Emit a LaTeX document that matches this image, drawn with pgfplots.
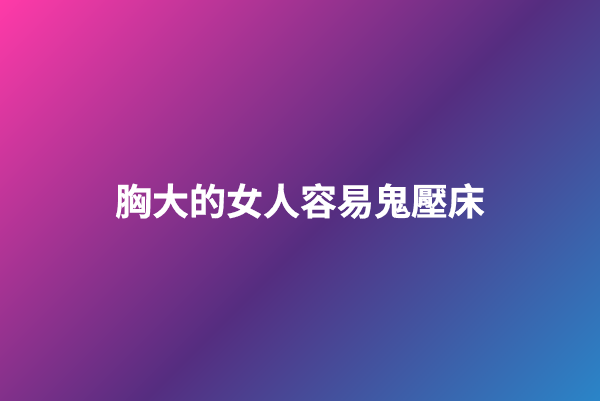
\documentclass[border=0pt]{standalone}
\usepackage{pgfplots}
\pgfplotsset{compat=1.18}
\usepackage{fontspec}
\newfontfamily\cjk{Noto Sans CJK TC}[UprightFont={* Bold}, FakeBold=0.6]

% diagonal gradient: pink (top left) -> deep purple -> blue (bottom right)
\pgfplotsset{
  colormap={banner}{rgb255(0)=(255,58,168) rgb255(545)=(85,45,128) rgb255(1000)=(42,133,200)}
}

\begin{document}
\begin{tikzpicture}
\begin{axis}[
    scale only axis,
    width=15cm, height=10cm,
    xmin=0, xmax=600,
    ymin=0, ymax=400,
    view={0}{90},
    hide axis,
    colormap name=banner,
    point meta min=0, point meta max=1000,
    clip=true,
]
% corner values: meta = x + (400 - y), in pixels
\addplot3[surf, shader=interp, mesh/rows=2, point meta=explicit] coordinates {
    (0,0,0) [400]   (600,0,0) [1000]

    (0,400,0) [0]   (600,400,0) [600]
};
\node[text=white, font=\cjk\fontsize{26.3pt}{30pt}\selectfont]
    at (axis cs:300,199,0) {胸大的女人容易鬼壓床};
\end{axis}
\end{tikzpicture}
\end{document}
